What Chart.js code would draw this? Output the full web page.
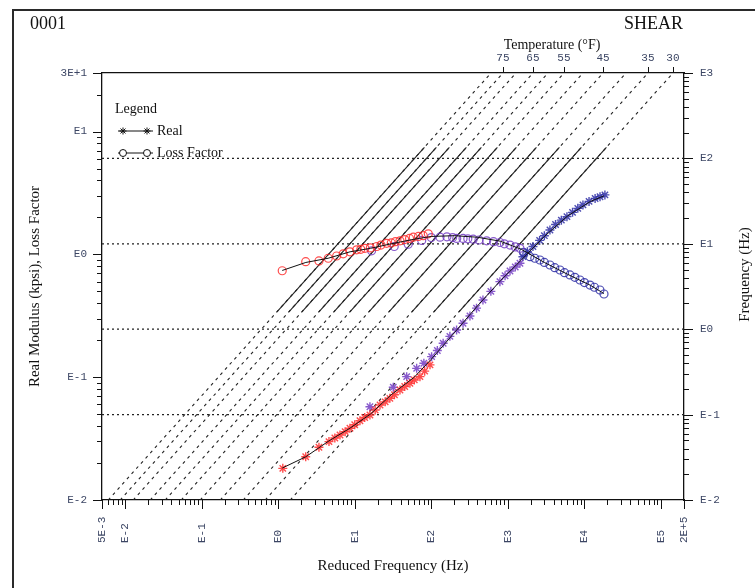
<!DOCTYPE html>
<html>
<head>
<meta charset="utf-8">
<script src="https://cdn.jsdelivr.net/npm/chart.js@4.4.0/dist/chart.umd.min.js"></script>
<style>
  html, body { margin: 0; padding: 0; background: #fff; }
  #wrap { position: relative; width: 755px; height: 588px; }
</style>
</head>
<body>
<div id="wrap"><canvas id="chart"></canvas></div>
<script>
// ---- data (reduced frequency in Hz) ----
var lossRedFreq = [1.13, 2.29, 3.41, 4.51, 5.81, 7.08, 8.66, 10.6, 12, 13.6, 16, 19.4, 22, 26.1, 30, 34, 39, 45, 52, 58.2, 68, 78.6, 91.4];
var lossRedVal  = [0.736, 0.872, 0.884, 0.93, 0.97, 1.01, 1.05, 1.09, 1.10, 1.12, 1.13, 1.16, 1.19, 1.23, 1.24, 1.27, 1.29, 1.32, 1.35, 1.38, 1.40, 1.42, 1.47];
var lossPurpleFreq = [16.6, 32.8, 50, 75, 100, 130, 160, 190, 215, 260, 300, 353, 420, 529, 650, 788, 900, 1067, 1250, 1440];
var lossPurpleVal  = [1.07, 1.16, 1.21, 1.30, 1.37, 1.38, 1.39, 1.37, 1.35, 1.35, 1.34, 1.33, 1.31, 1.29, 1.27, 1.25, 1.22, 1.19, 1.15, 1.12];
var lossBlueFreq = [1600, 1945, 2250, 2625, 3000, 3548, 4100, 4797, 5500, 6471, 7500, 8750, 10000, 11830, 13500, 15960, 18030];
var lossBlueVal  = [1.04, 0.958, 0.93, 0.90, 0.86, 0.82, 0.78, 0.746, 0.71, 0.68, 0.65, 0.619, 0.59, 0.563, 0.54, 0.513, 0.476];

var realRedFreq = [1.15, 2.29, 3.41, 4.61, 5.5, 6.42, 7.5, 8.66, 10, 11.7, 13.5, 15.8, 18.5, 21.4, 25, 28.8, 33, 39, 45, 52.6, 60, 71.1, 82, 96.2];
var realRedVal  = [0.0181, 0.0225, 0.0269, 0.0299, 0.032, 0.0338, 0.036, 0.0384, 0.041, 0.0442, 0.047, 0.0492, 0.054, 0.0594, 0.063, 0.0673, 0.072, 0.0787, 0.084, 0.0892, 0.095, 0.101, 0.112, 0.126];
var realPurpleFreq = [15.8, 31.9, 47.7, 64.4, 80, 101, 120, 143, 175, 214, 260, 320, 390, 473, 600, 788, 920, 1067, 1250, 1440];
var realPurpleVal  = [0.0575, 0.0828, 0.101, 0.118, 0.130, 0.147, 0.165, 0.189, 0.215, 0.242, 0.275, 0.315, 0.365, 0.425, 0.50, 0.60, 0.67, 0.733, 0.79, 0.847];
var realBlueFreq = [1575, 1800, 2128, 2600, 3000, 3548, 4200, 5000, 5916, 7000, 8200, 9572, 11500, 13800, 16000, 18540];
var realBlueVal  = [0.958, 1.05, 1.16, 1.30, 1.42, 1.58, 1.75, 1.90, 2.03, 2.2, 2.37, 2.53, 2.7, 2.85, 2.95, 3.05];

// fitted master curves
var fitFreq = [1.13, 2.3, 4.5, 8.7, 16, 30, 60, 100, 200, 400, 800, 1500, 3000, 6000, 12000, 18000];
var fitLoss = [0.74, 0.86, 0.93, 1.05, 1.12, 1.22, 1.33, 1.40, 1.42, 1.38, 1.28, 1.10, 0.86, 0.69, 0.56, 0.48];
var fitReal = [0.0182, 0.0225, 0.030, 0.0385, 0.050, 0.072, 0.10, 0.14, 0.23, 0.38, 0.61, 0.90, 1.40, 2.05, 2.70, 3.0];

// isotherms: temperature (F) and log10 shift factor
var temps = [80, 75, 70, 65, 60, 55, 50, 45, 40, 35, 30];
var logShift = [-0.22, -0.064, 0.106, 0.328, 0.524, 0.733, 0.981, 1.243, 1.543, 1.83, 2.157];
var tempLabels = [75, 65, 55, 45, 35, 30];
var freqLimits = [0.01, 1000];
var testedFreq = [1.6, 135];
var freqGrid = [0.1, 1, 10, 100];

// axis tick labels
var xTickVals = [0.005, 0.01, 0.1, 1, 10, 100, 1000, 1e4, 1e5, 2e5];
var xTickText = ['5E-3', 'E-2', 'E-1', 'E0', 'E1', 'E2', 'E3', 'E4', 'E5', '2E+5'];
var yTickVals = [0.01, 0.1, 1, 10, 30];
var yTickText = ['E-2', 'E-1', 'E0', 'E1', '3E+1'];
var y2TickVals = [0.01, 0.1, 1, 10, 100, 1000];
var y2TickText = ['E-2', 'E-1', 'E0', 'E1', 'E2', 'E3'];

var RED = 'rgba(255,45,45,0.85)';
var PURPLE = 'rgba(115,60,195,0.85)';
var BLUE = 'rgba(45,45,165,0.85)';
var MONO = 'Liberation Mono';
var SERIF = 'Liberation Serif';
var TICKCOL = '#3c4664';

function pts(xs, ys) {
    return xs.map(function (x, i) { return {x: x, y: ys[i]}; });
}

var datasets = [];

// fit lines on top
datasets.push({data: pts(fitFreq, fitLoss), showLine: true, borderColor: '#111', borderWidth: 1, pointRadius: 0, order: 0, xAxisID: 'x', yAxisID: 'y'});
datasets.push({data: pts(fitFreq, fitReal), showLine: true, borderColor: '#111', borderWidth: 1, pointRadius: 0, order: 0, xAxisID: 'x', yAxisID: 'y'});

// measured points
[[lossRedFreq, lossRedVal, RED], [lossPurpleFreq, lossPurpleVal, PURPLE], [lossBlueFreq, lossBlueVal, BLUE]].forEach(function (g) {
    datasets.push({data: pts(g[0], g[1]), pointStyle: 'circle', pointRadius: 4, borderWidth: 1.2,
        borderColor: g[2], backgroundColor: 'rgba(0,0,0,0)', showLine: false, order: 1, xAxisID: 'x', yAxisID: 'y'});
});
[[realRedFreq, realRedVal, RED], [realPurpleFreq, realPurpleVal, PURPLE], [realBlueFreq, realBlueVal, BLUE]].forEach(function (g) {
    datasets.push({data: pts(g[0], g[1]), pointStyle: 'star', pointRadius: 4.5, borderWidth: 1.4,
        borderColor: g[2], backgroundColor: g[2], showLine: false, order: 1, xAxisID: 'x', yAxisID: 'y'});
});

// isotherm lines: dashed over the whole range, solid where tested
temps.forEach(function (t, i) {
    var a = Math.pow(10, logShift[i]);
    datasets.push({data: freqLimits.map(function (f) { return {x: f * a, y: f}; }), showLine: true,
        borderColor: '#222', borderWidth: 1.1, borderDash: [3, 4], pointRadius: 0, order: 2, xAxisID: 'x', yAxisID: 'y2'});
    datasets.push({data: testedFreq.map(function (f) { return {x: f * a, y: f}; }), showLine: true,
        borderColor: '#222', borderWidth: 1.1, pointRadius: 0, order: 2, xAxisID: 'x', yAxisID: 'y2'});
});

// dotted frequency reference lines
freqGrid.forEach(function (f) {
    datasets.push({data: [{x: xTickVals[0], y: f}, {x: xTickVals[xTickVals.length - 1], y: f}], showLine: true,
        borderColor: '#222', borderWidth: 1.3, borderDash: [2, 3], pointRadius: 0, order: 3, xAxisID: 'x', yAxisID: 'y2'});
});

function logMarks(min, max) {
    var out = [];
    for (var k = Math.floor(Math.log10(min)); k <= Math.ceil(Math.log10(max)); k++) {
        for (var m = 1; m <= 9; m++) {
            var v = m * Math.pow(10, k);
            if (v >= min * 0.999 && v <= max * 1.001) {
                out.push({v: v, major: m === 1 || Math.abs(v - min) < min * 1e-3 || Math.abs(v - max) < max * 1e-3});
            }
        }
    }
    return out;
}

var decor = {
    id: 'decor',
    beforeDraw: function (chart) {
        var ctx = chart.ctx;
        ctx.save();
        ctx.fillStyle = '#fff';
        ctx.fillRect(0, 0, chart.width, chart.height);
        ctx.strokeStyle = '#2a2a2a';
        ctx.lineWidth = 2;
        ctx.beginPath();
        ctx.moveTo(13, 600); ctx.lineTo(13, 10); ctx.lineTo(755, 10);
        ctx.stroke();
        ctx.restore();
    },
    afterDraw: function (chart) {
        var ctx = chart.ctx, a = chart.chartArea, s = chart.scales;
        ctx.save();
        ctx.strokeStyle = '#111';
        ctx.lineWidth = 1;
        ctx.beginPath();
        logMarks(s.x.min, s.x.max).forEach(function (t) {
            var px = Math.round(s.x.getPixelForValue(t.v)) + 0.5;
            ctx.moveTo(px, a.bottom); ctx.lineTo(px, a.bottom + (t.major ? 9 : 5));
        });
        logMarks(s.y.min, s.y.max).forEach(function (t) {
            var py = Math.round(s.y.getPixelForValue(t.v)) + 0.5;
            ctx.moveTo(a.left, py); ctx.lineTo(a.left - (t.major ? 9 : 5), py);
        });
        logMarks(s.y2.min, s.y2.max).forEach(function (t) {
            var py = Math.round(s.y2.getPixelForValue(t.v)) + 0.5;
            ctx.moveTo(a.right, py); ctx.lineTo(a.right + (t.major ? 9 : 5), py);
        });
        s.xT.ticks.forEach(function (t) {
            var px = Math.round(s.xT.getPixelForValue(t.value)) + 0.5;
            ctx.moveTo(px, a.top); ctx.lineTo(px, a.top - 6);
        });
        ctx.stroke();

        // bottom tick labels, rotated, reading upward
        ctx.fillStyle = TICKCOL;
        ctx.font = '11px "' + MONO + '"';
        ctx.textAlign = 'left';
        ctx.textBaseline = 'middle';
        xTickVals.forEach(function (v, i) {
            var px = s.x.getPixelForValue(v);
            ctx.save();
            ctx.translate(px, a.bottom + 43);
            ctx.rotate(-Math.PI / 2);
            ctx.fillText(xTickText[i], 0, 0);
            ctx.restore();
        });

        // titles
        ctx.fillStyle = '#111';
        ctx.font = '18px "' + SERIF + '"';
        ctx.textBaseline = 'alphabetic';
        ctx.textAlign = 'left';
        ctx.fillText('0001', 30, 29);
        ctx.textAlign = 'right';
        ctx.fillText('SHEAR', 683, 29);
        ctx.font = '14px "' + SERIF + '"';
        ctx.textAlign = 'center';
        ctx.fillText('Temperature (\u00B0F)', 552, 49);
        ctx.font = '15px "' + SERIF + '"';
        ctx.fillText('Reduced Frequency (Hz)', (a.left + a.right) / 2, 570);
        ctx.textBaseline = 'middle';
        ctx.save();
        ctx.translate(35, (a.top + a.bottom) / 2);
        ctx.rotate(-Math.PI / 2);
        ctx.fillText('Real Modulus (kpsi), Loss Factor', 0, 0);
        ctx.restore();
        ctx.save();
        ctx.translate(745, (a.top + a.bottom) / 2 - 12);
        ctx.rotate(-Math.PI / 2);
        ctx.fillText('Frequency (Hz)', 0, 0);
        ctx.restore();

        // legend box inside the plot
        var lx = a.left + 13, ly = a.top + 36;
        ctx.font = '14px "' + SERIF + '"';
        ctx.textAlign = 'left';
        ctx.fillText('Legend', lx, ly);
        var rows = [['Real', 'star', ly + 22], ['Loss Factor', 'circle', ly + 44]];
        rows.forEach(function (r) {
            ctx.strokeStyle = '#111';
            ctx.lineWidth = 1;
            ctx.beginPath();
            ctx.moveTo(lx + 3, r[2]); ctx.lineTo(lx + 38, r[2]);
            ctx.stroke();
            ctx.fillStyle = '#fff';
            [lx + 8, lx + 32].forEach(function (mx) {
                Chart.helpers.drawPoint(ctx, {pointStyle: r[1], radius: 3.5, borderWidth: 1, rotation: 0}, mx, r[2]);
            });
            ctx.fillStyle = '#111';
            ctx.fillText(r[0], lx + 42, r[2]);
        });
        ctx.restore();
    }
};

function fixedTicks(vals) {
    return function (scale) {
        scale.ticks = vals.map(function (v) { return {value: v}; });
    };
}

new Chart(document.getElementById('chart'), {
    type: 'scatter',
    data: {datasets: datasets},
    plugins: [decor],
    options: {
        responsive: true,
        maintainAspectRatio: false,
        animation: false,
        layout: {padding: 0},
        plugins: {legend: {display: false}, tooltip: {enabled: false}},
        scales: {
            x: {
                type: 'logarithmic', position: 'bottom', min: 0.005, max: 2e5, bounds: 'data',
                grid: {display: false, drawTicks: false},
                border: {color: '#111', width: 1.3},
                ticks: {display: false},
                afterFit: function (s) { s.height = 88; }
            },
            xT: {
                type: 'logarithmic', position: 'top', min: 0.005, max: 2e5, bounds: 'data',
                grid: {display: false, drawTicks: false},
                border: {color: '#111', width: 1.3},
                afterBuildTicks: function (s) {
                    s.ticks = tempLabels.map(function (t) {
                        return {value: 1000 * Math.pow(10, logShift[temps.indexOf(t)])};
                    });
                },
                ticks: {
                    autoSkip: false, maxRotation: 0, padding: 8, color: TICKCOL,
                    font: {family: MONO, size: 11},
                    callback: function (v, i) { return String(tempLabels[i]); }
                },
                afterFit: function (s) { s.height = 73; }
            },
            y: {
                type: 'logarithmic', position: 'left', min: 0.01, max: 30, bounds: 'data',
                grid: {display: false, drawTicks: false},
                border: {color: '#111', width: 1.3},
                afterBuildTicks: fixedTicks(yTickVals),
                ticks: {
                    autoSkip: false, padding: 15, color: TICKCOL,
                    font: {family: MONO, size: 11},
                    callback: function (v, i) { return yTickText[i]; }
                },
                afterFit: function (s) { s.width = 102; }
            },
            y2: {
                type: 'logarithmic', position: 'right', min: 0.01, max: 1000, bounds: 'data',
                grid: {display: false, drawTicks: false},
                border: {color: '#111', width: 1.3},
                afterBuildTicks: fixedTicks(y2TickVals),
                ticks: {
                    autoSkip: false, padding: 16, color: TICKCOL,
                    font: {family: MONO, size: 11},
                    callback: function (v, i) { return y2TickText[i]; }
                },
                afterFit: function (s) { s.width = 71; }
            }
        }
    }
});
</script>
</body>
</html>
